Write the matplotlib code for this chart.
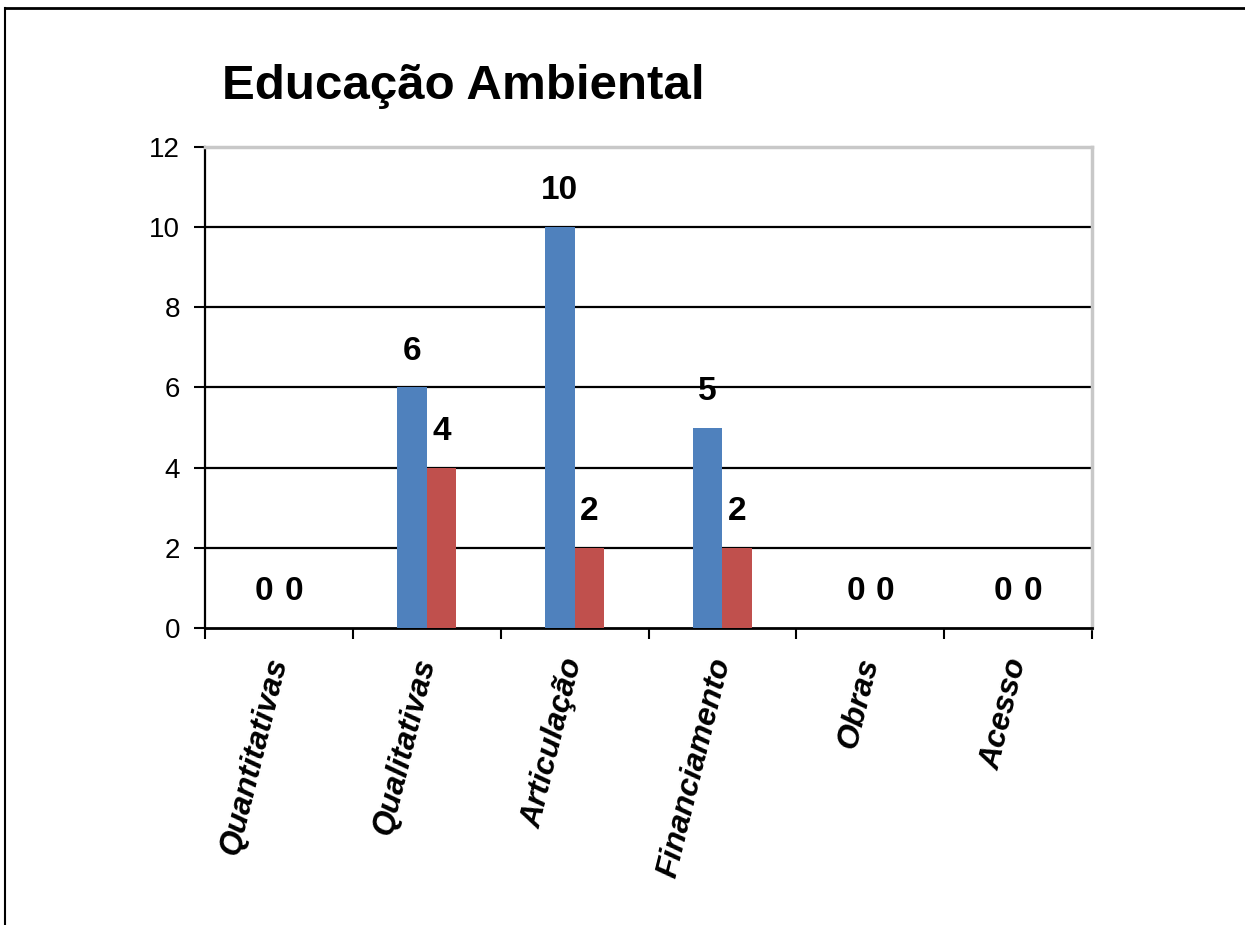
import matplotlib
matplotlib.use('Agg')
from matplotlib import pyplot as plt
from matplotlib.lines import Line2D
import numpy as np

categories = ['Quantitativas', 'Qualitativas', 'Articulação', 'Financiamento', 'Obras', 'Acesso']
serie1 = [0, 6, 10, 5, 0, 0]
serie2 = [0, 4, 2, 2, 0, 0]
yticks = [0, 2, 4, 6, 8, 10, 12]
title = 'Educação Ambiental'

plt.rcParams['font.family'] = ['Liberation Sans', 'DejaVu Sans']

fig = plt.figure(figsize=(12.45, 9.25), dpi=100)
ax = fig.add_axes([0.1647, 0.3211, 0.7124, 0.52])

x = np.arange(len(categories)) + 0.5
w = 0.2
b1 = ax.bar(x - w / 2, serie1, w, color='#4F81BD', zorder=3)
b2 = ax.bar(x + w / 2, serie2, w, color='#C0504D', zorder=3)
for bars in (b1, b2):
    ax.bar_label(bars, padding=15, fontsize=24, fontweight='bold')

ax.set_xlim(0, len(categories))
ax.set_ylim(0, 12)
ax.set_yticks(yticks)
ax.set_yticklabels([str(v) for v in yticks], fontsize=20)
ax.tick_params(axis='y', length=8, width=1.5, pad=10)

# ticks at category boundaries, labels in the middle
ax.set_xticks(np.arange(len(categories) + 1))
ax.set_xticklabels([])
ax.set_xticks(x, minor=True)
ax.set_xticklabels(categories, minor=True, rotation=76, rotation_mode='anchor',
                   ha='right', va='center', fontsize=23, fontweight='bold', style='italic')
ax.tick_params(axis='x', which='major', length=8, width=1.5, direction='out')
ax.tick_params(axis='x', which='minor', length=0, pad=22)

for v in yticks[1:-1]:
    ax.axhline(v, color='black', lw=1.6, zorder=1)
ax.spines['top'].set_color('#c8c8c8')
ax.spines['top'].set_linewidth(2.5)
ax.spines['right'].set_color('#c8c8c8')
ax.spines['right'].set_linewidth(2.5)
ax.spines['left'].set_linewidth(1.6)
ax.spines['bottom'].set_linewidth(2)

fig.text(0.178, 0.907, title, fontsize=35.5, fontweight='bold', ha='left', va='center')

# outer frame (top and left edges)
fig.add_artist(Line2D([0.004, 1.0], [0.991, 0.991], color='black', lw=2, transform=fig.transFigure))
fig.add_artist(Line2D([0.004, 0.004], [0.0, 0.991], color='black', lw=1.5, transform=fig.transFigure))

fig.savefig('out.png', dpi=100)
